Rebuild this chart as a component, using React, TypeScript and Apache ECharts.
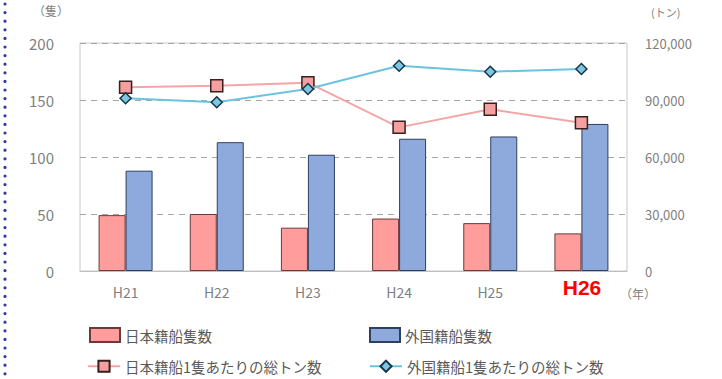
import React, { useEffect, useRef } from "react";
import * as echarts from "echarts";

const categories = ["H21", "H22", "H23", "H24", "H25", "H26"];
const japanShips = [49, 50, 38, 46, 42, 33];
const foreignShips = [88, 113, 102, 116, 118, 129];
const japanTonnage = [96700, 97500, 99100, 75600, 85100, 78000];
const foreignTonnage = [90900, 88800, 95800, 108000, 104900, 106300];
const leftTicks = [0, 50, 100, 150, 200];
const rightTicks = [0, 30000, 60000, 90000, 120000];
const highlightedCategory = "H26";

const names = {
  jShips: "日本籍船隻数",
  fShips: "外国籍船隻数",
  jTon: "日本籍船1隻あたりの総トン数",
  fTon: "外国籍船1隻あたりの総トン数",
};

const FONT = "'Noto Sans CJK JP', 'Noto Sans', sans-serif";
const GRAY = "#7f7f7f";

export default function App() {
  const ref = useRef<HTMLDivElement>(null);
  useEffect(() => {
    if (!ref.current) return;
    const chart = echarts.init(ref.current, null, { renderer: "svg" });
    const legendText = { color: "#595959", fontSize: 14.5, fontFamily: FONT };
    chart.setOption({
      animation: false,
      textStyle: { fontFamily: FONT },
      grid: {
        left: 80,
        right: 95,
        top: 43,
        bottom: 108,
        show: true,
        borderColor: "#c8c8c8",
        borderWidth: 1,
      },
      legend: [
        {
          data: [{ name: names.jShips, icon: "rect" }],
          left: 84,
          top: 322,
          itemWidth: 30,
          itemHeight: 14,
          itemGap: 6,
          textStyle: legendText,
        },
        {
          data: [{ name: names.fShips, icon: "rect" }],
          left: 364,
          top: 322,
          itemWidth: 30,
          itemHeight: 14,
          textStyle: legendText,
        },
        {
          data: [names.jTon],
          left: 82,
          top: 354,
          itemWidth: 32,
          itemHeight: 14,
          textStyle: legendText,
        },
        {
          data: [names.fTon],
          left: 364,
          top: 354,
          itemWidth: 32,
          itemHeight: 14,
          textStyle: legendText,
        },
      ],
      xAxis: {
        type: "category",
        data: categories,
        axisLine: { show: true, lineStyle: { color: "#bfbfbf" } },
        axisTick: { show: false },
        axisLabel: {
          color: GRAY,
          fontSize: 14,
          margin: 14,
          fontFamily: FONT,
          formatter: (v: string) => (v === highlightedCategory ? "" : v),
        },
      },
      yAxis: [
        {
          type: "value",
          min: leftTicks[0],
          max: leftTicks[leftTicks.length - 1],
          interval: 50,
          axisLine: { show: false },
          axisTick: { show: false },
          axisLabel: { color: GRAY, fontSize: 15, margin: 26, fontFamily: FONT },
          splitLine: {
            show: true,
            lineStyle: { color: "#a6a6a6", type: [6, 5], width: 1 },
          },
        },
        {
          type: "value",
          min: rightTicks[0],
          max: rightTicks[rightTicks.length - 1],
          interval: 30000,
          axisLine: { show: false },
          axisTick: { show: false },
          splitLine: { show: false },
          axisLabel: {
            color: GRAY,
            fontSize: 13,
            margin: 18,
            fontFamily: FONT,
            formatter: (v: number) => v.toLocaleString("en-US"),
          },
        },
      ],
      series: [
        {
          name: names.jShips,
          type: "bar",
          data: japanShips,
          barWidth: 27,
          barGap: "0%",
          itemStyle: { color: "#ff9c9c", borderColor: "#6b3a3a", borderWidth: 1 },
        },
        {
          name: names.fShips,
          type: "bar",
          data: foreignShips,
          barWidth: 27,
          barGap: "0%",
          itemStyle: { color: "#8eaadc", borderColor: "#2f3f60", borderWidth: 1 },
        },
        {
          name: names.jTon,
          type: "line",
          yAxisIndex: 1,
          data: japanTonnage,
          symbol: "rect",
          symbolSize: 12,
          lineStyle: { color: "#f4a6a6", width: 2 },
          itemStyle: { color: "#f4a0a0", borderColor: "#3a1f1f", borderWidth: 1.5 },
          z: 5,
        },
        {
          name: names.fTon,
          type: "line",
          yAxisIndex: 1,
          data: foreignTonnage,
          symbol: "diamond",
          symbolSize: 11,
          lineStyle: { color: "#6cc3e0", width: 2 },
          itemStyle: { color: "#7cc8e0", borderColor: "#16354a", borderWidth: 1.5 },
          z: 6,
        },
      ],
      graphic: [
        {
          type: "line",
          shape: { x1: 5, y1: 4, x2: 5, y2: 379 },
          style: {
            stroke: "#2e3aa8",
            lineWidth: 3.2,
            lineCap: "round",
            lineDash: [0, 8.6],
          },
        },
        {
          type: "text",
          left: 33,
          top: 4,
          style: { text: "（隻）", fill: GRAY, fontSize: 12, fontFamily: FONT },
        },
        {
          type: "text",
          left: 651,
          top: 6,
          style: { text: "(トン)", fill: GRAY, fontSize: 11, fontFamily: FONT },
        },
        {
          type: "text",
          left: 620,
          top: 287,
          style: { text: "（年）", fill: GRAY, fontSize: 12, fontFamily: FONT },
        },
        {
          type: "rect",
          shape: { x: 550, y: 273, width: 63, height: 30 },
          style: { fill: "#ffffff" },
          z: 50,
        },
        {
          type: "text",
          x: 582,
          y: 287,
          style: {
            text: highlightedCategory,
            fill: "#ff0000",
            fontSize: 21,
            fontWeight: "bold",
            fontFamily: "'Liberation Sans', Arial, sans-serif",
            align: "center",
            verticalAlign: "middle",
          },
          z: 51,
        },
      ],
    });
    return () => chart.dispose();
  }, []);
  return (
    <div
      ref={ref}
      style={{ position: "absolute", left: 0, top: 0, width: 722, height: 379, background: "#fff" }}
    />
  );
}
